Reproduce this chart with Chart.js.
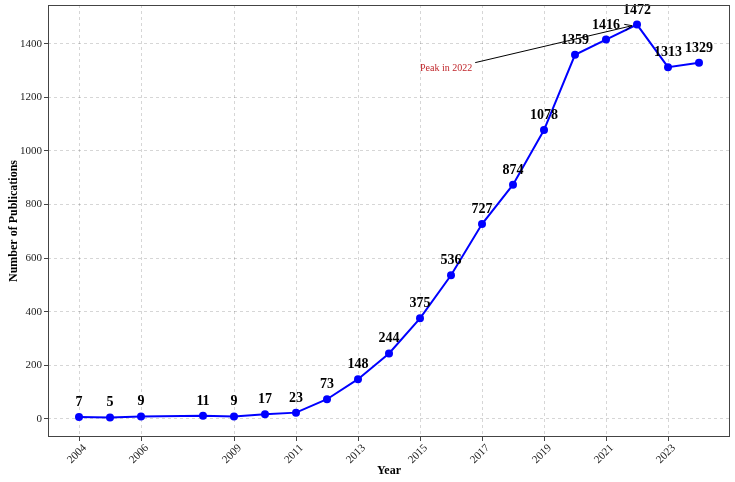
<!DOCTYPE html>
<html>
<head>
<meta charset="utf-8">
<script src="https://cdn.jsdelivr.net/npm/chart.js@4.4.1/dist/chart.umd.min.js"></script>
<style>
  html, body { margin: 0; padding: 0; background: #fff; }
  #wrap { width: 735px; height: 482px; }
</style>
</head>
<body>
<div id="wrap"><canvas id="pub-chart"></canvas></div>
<script>
// data
var years = [2004, 2005, 2006, 2008, 2009, 2010, 2011, 2012, 2013, 2014, 2015, 2016, 2017, 2018, 2019, 2020, 2021, 2022, 2023, 2024];
var counts = [7, 5, 9, 11, 9, 17, 23, 73, 148, 244, 375, 536, 727, 874, 1078, 1359, 1416, 1472, 1313, 1329];
var xTicks = [2004, 2006, 2009, 2011, 2013, 2015, 2017, 2019, 2021, 2023];
var yTicks = [0, 200, 400, 600, 800, 1000, 1200, 1400];
var peakYear = 2022;
var peakValue = 1472;
var peakText = 'Peak in 2022';
var peakTextAt = [2015, 1300];

var serif = '"Liberation Serif", "DejaVu Serif", serif';
var gridColor = 'rgba(0,0,0,0.16)';

var points = years.map(function (y, i) { return { x: y, y: counts[i] }; });

// value labels above each point
var valueLabels = {
    id: 'valueLabels',
    afterDatasetsDraw: function (chart) {
        var ctx = chart.ctx;
        var meta = chart.getDatasetMeta(0);
        ctx.save();
        ctx.font = 'bold 14px ' + serif;
        ctx.fillStyle = '#000';
        ctx.textAlign = 'center';
        ctx.textBaseline = 'alphabetic';
        meta.data.forEach(function (pt, i) {
            ctx.fillText(String(counts[i]), pt.x, pt.y - 11);
        });
        ctx.restore();
    }
};

// frame, rotated year labels, peak annotation
var extras = {
    id: 'extras',
    afterDraw: function (chart) {
        var ctx = chart.ctx;
        var a = chart.chartArea;
        var xs = chart.scales.x, ys = chart.scales.y;
        ctx.save();
        ctx.strokeStyle = '#444';
        ctx.lineWidth = 1;
        ctx.strokeRect(a.left + 0.5, a.top + 0.5, a.right - a.left - 1, a.bottom - a.top - 1);

        // x tick labels, centred under the tick and turned 45 degrees
        ctx.font = '11px ' + serif;
        ctx.fillStyle = '#222';
        ctx.textAlign = 'center';
        ctx.textBaseline = 'middle';
        xTicks.forEach(function (v) {
            var x = xs.getPixelForValue(v);
            ctx.save();
            ctx.translate(x - 2, a.bottom + 17);
            ctx.rotate(-Math.PI / 4);
            ctx.fillText(String(v), 0, 0);
            ctx.restore();
        });

        var tx = xs.getPixelForValue(peakTextAt[0]);
        var ty = ys.getPixelForValue(peakTextAt[1]);
        ctx.font = '10px ' + serif;
        ctx.fillStyle = '#c0262b';
        ctx.textAlign = 'left';
        ctx.textBaseline = 'alphabetic';
        ctx.fillText(peakText, tx, ty);
        var tw = ctx.measureText(peakText).width;

        var sx = tx + tw + 3, sy = ty - 8;
        var px = xs.getPixelForValue(peakYear), py = ys.getPixelForValue(peakValue);
        var ang = Math.atan2(py - sy, px - sx);
        var ex = px - Math.cos(ang) * 5, ey = py - Math.sin(ang) * 5;
        ctx.strokeStyle = '#000';
        ctx.beginPath();
        ctx.moveTo(sx, sy);
        ctx.lineTo(ex, ey);
        ctx.stroke();
        // arrow head
        ctx.beginPath();
        ctx.moveTo(ex, ey);
        ctx.lineTo(ex - Math.cos(ang - 0.4) * 8, ey - Math.sin(ang - 0.4) * 8);
        ctx.moveTo(ex, ey);
        ctx.lineTo(ex - Math.cos(ang + 0.4) * 8, ey - Math.sin(ang + 0.4) * 8);
        ctx.stroke();
        ctx.restore();
    }
};

new Chart(document.getElementById('pub-chart'), {
    type: 'line',
    data: {
        datasets: [{
            data: points,
            borderColor: '#0000ff',
            backgroundColor: '#0000ff',
            borderWidth: 2,
            pointRadius: 4,
            pointHoverRadius: 4,
            pointBorderWidth: 0,
            tension: 0
        }]
    },
    options: {
        responsive: true,
        maintainAspectRatio: false,
        animation: false,
        layout: { padding: { left: 0, right: 5, top: 5, bottom: 0 } },
        plugins: {
            legend: { display: false },
            tooltip: { enabled: false }
        },
        scales: {
            x: {
                type: 'linear',
                min: 2003,
                max: 2025,
                afterBuildTicks: function (scale) {
                    scale.ticks = xTicks.map(function (v) { return { value: v }; });
                },
                afterFit: function (scale) {
                    scale.height = 45;
                    scale.paddingLeft = 0;
                    scale.paddingRight = 0;
                },
                ticks: {
                    autoSkip: false,
                    display: false
                },
                grid: {
                    color: gridColor,
                    tickColor: '#444',
                    tickLength: 4,
                    tickBorderDash: []
                },
                border: { display: false, dash: [3, 3] },
                title: {
                    display: true,
                    text: 'Year',
                    color: '#000',
                    font: { family: serif, size: 12, weight: 'bold' },
                    padding: { top: 0, bottom: 4 }
                }
            },
            y: {
                min: -68,
                max: 1545,
                afterBuildTicks: function (scale) {
                    scale.ticks = yTicks.map(function (v) { return { value: v }; });
                },
                afterFit: function (scale) {
                    scale.width = 48;
                    scale.paddingTop = 0;
                    scale.paddingBottom = 0;
                },
                ticks: {
                    color: '#222',
                    font: { family: serif, size: 11 },
                    padding: 2,
                    callback: function (v) { return String(v); }
                },
                grid: {
                    color: gridColor,
                    tickColor: '#444',
                    tickLength: 4,
                    tickBorderDash: []
                },
                border: { display: false, dash: [3, 3] },
                title: {
                    display: true,
                    text: 'Number of Publications',
                    color: '#000',
                    font: { family: serif, size: 12, weight: 'bold' },
                    padding: { top: 7, bottom: 0 }
                }
            }
        }
    },
    plugins: [valueLabels, extras]
});
</script>
</body>
</html>
